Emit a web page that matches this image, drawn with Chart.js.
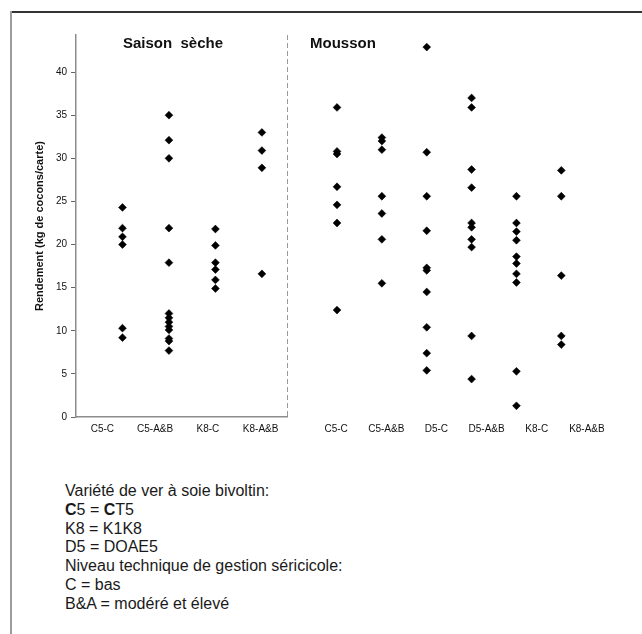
<!DOCTYPE html>
<html lang="fr">
<head>
<meta charset="utf-8">
<title>Rendement en cocons</title>
<script src="https://cdn.jsdelivr.net/npm/chart.js@4.4.0/dist/chart.umd.min.js"></script>
<style>
  html, body { margin: 0; padding: 0; background: #fff; }
  body {
    width: 642px; height: 634px; position: relative; overflow: hidden;
    font-family: "Liberation Sans", Arial, sans-serif; color: #111;
  }
  .frame-top  { position: absolute; left: 10px; top: 11px; right: 0; border-top: 2px solid #333; }
  .frame-left { position: absolute; left: 10px; top: 11px; bottom: 0; border-left: 2px solid #9c9c9c; }
  canvas { position: absolute; top: 0; }
  #dry { left: 0; }
  #wet { left: 287px; }
  .panel-title {
    position: absolute; top: 34px; font-weight: bold; font-size: 15px;
    line-height: 18px; white-space: pre;
  }
  .note { position: absolute; left: 65px; top: 482px; font-size: 16px; line-height: 18.8px; color: #1a1a1a; }
</style>
</head>
<body>
<div class="frame-top"></div>
<div class="frame-left"></div>

<canvas id="dry" width="295" height="440"></canvas>
<canvas id="wet" width="355" height="440"></canvas>

<div class="panel-title" style="left:123px">Saison  sèche</div>
<div class="panel-title" style="left:310px">Mousson</div>

<div class="note">
  Variété de ver à soie bivoltin:<br>
  <b>C</b>5 = <b>C</b>T5<br>
  K8 = K1K8<br>
  D5 = DOAE5<br>
  Niveau technique de gestion séricicole:<br>
  C = bas<br>
  B&amp;A = modéré et élevé
</div>

<script>
'use strict';

// ── Data ────────────────────────────────────────────────────────────────────

var Y_MAX   = 44.3;
var Y_TICKS = [0, 5, 10, 15, 20, 25, 30, 35, 40];

// Saison sèche
var DRY_CATEGORIES = ['C5-C', 'C5-A&B', 'K8-C', 'K8-A&B'];
var DRY_C5_C  = [24.3, 21.9, 20.9, 20.0, 10.3, 9.2];
var DRY_C5_AB = [35.0, 32.1, 30.0, 21.9, 17.9, 12.0, 11.5, 11.0, 10.5, 10.1, 9.1, 8.8, 7.7];
var DRY_K8_C  = [21.8, 19.9, 17.9, 17.1, 15.9, 14.9];
var DRY_K8_AB = [33.0, 30.9, 28.9, 16.6];

// Mousson
var WET_CATEGORIES = ['C5-C', 'C5-A&B', 'D5-C', 'D5-A&B', 'K8-C', 'K8-A&B'];
var WET_C5_C  = [35.9, 30.8, 30.5, 26.7, 24.6, 22.5, 12.4];
var WET_C5_AB = [32.4, 32.0, 31.0, 25.6, 23.6, 20.6, 15.5];
var WET_D5_C  = [42.9, 30.7, 25.6, 21.6, 17.3, 17.0, 14.5, 10.4, 7.4, 5.4];
var WET_D5_AB = [37.0, 35.9, 28.7, 26.6, 22.5, 22.0, 20.6, 19.7, 9.4, 4.4];
var WET_K8_C  = [25.6, 22.5, 21.5, 20.5, 18.6, 17.8, 16.6, 15.6, 5.3, 1.3];
var WET_K8_AB = [28.6, 25.6, 16.4, 9.4, 8.4];

// ── Helpers ─────────────────────────────────────────────────────────────────

var AXIS_GREY = '#8c8c8c';
var FONT = '"Liberation Sans", Arial, sans-serif';

// one dataset per column, x = column index
function buildDatasets(columns) {
  return columns.map(function (values, i) {
    return {
      data: values.map(function (v) { return { x: i, y: v }; }),
      pointStyle: 'rectRot',
      pointRadius: 3.9,
      backgroundColor: '#000',
      borderColor: '#000',
      borderWidth: 0.6,
      showLine: false,
    };
  });
}

function labelAxis(labels, showBorder) {
  return {
    type: 'category',
    position: 'bottom',
    labels: labels,
    offset: true,
    grid: { display: false, drawTicks: false },
    border: { display: showBorder, color: AXIS_GREY, width: 1.5 },
    ticks: { padding: 6, color: '#111', font: { family: FONT, size: 10 }, autoSkip: false, maxRotation: 0 },
    afterFit: function (s) { s.height = 23; },
  };
}

function baseOptions(padding) {
  return {
    responsive: false,
    animation: false,
    events: [],
    layout: { padding: padding },
    plugins: { legend: { display: false }, tooltip: { enabled: false }, title: { display: false } },
  };
}

// dashed separator on the right edge of the dry-season panel
var separator = {
  id: 'separator',
  afterDraw: function (chart) {
    var a = chart.chartArea;
    var ctx = chart.ctx;
    ctx.save();
    ctx.strokeStyle = '#9a9a9a';
    ctx.lineWidth = 1;
    ctx.setLineDash([5, 3]);
    ctx.beginPath();
    ctx.moveTo(a.right + 0.5, a.top);
    ctx.lineTo(a.right + 0.5, a.bottom);
    ctx.stroke();
    ctx.restore();
  },
};

// ── Saison sèche (with y axis) ──────────────────────────────────────────────

var dryOpts = baseOptions({ top: 35, right: 8, bottom: 0, left: 0 });
dryOpts.scales = {
  x:  { type: 'linear', display: false, min: -1.0, max: 3.54 },
  xl: labelAxis(DRY_CATEGORIES, true),
  y: {
    type: 'linear',
    position: 'left',
    min: 0,
    max: Y_MAX,
    afterBuildTicks: function (s) { s.ticks = Y_TICKS.map(function (v) { return { value: v }; }); },
    grid: { drawOnChartArea: false, drawTicks: true, tickLength: 5, color: '#666', lineWidth: 1 },
    border: { color: AXIS_GREY, width: 1.5 },
    ticks: { padding: 4, color: '#111', font: { family: FONT, size: 10 } },
    title: {
      display: true,
      text: 'Rendement (kg de cocons/carte)',
      color: '#111',
      font: { family: FONT, size: 11, weight: 'bold' },
      padding: { top: 33, bottom: 0 },
    },
    afterFit: function (s) { s.width = 76; },
  },
};

new Chart(document.getElementById('dry'), {
  type: 'scatter',
  data: { datasets: buildDatasets([DRY_C5_C, DRY_C5_AB, DRY_K8_C, DRY_K8_AB]) },
  options: dryOpts,
  plugins: [separator],
});

// ── Mousson ─────────────────────────────────────────────────────────────────

var wetOpts = baseOptions({ top: 35, right: 30, bottom: 0, left: 24 });
wetOpts.scales = {
  x:  { type: 'linear', display: false, min: -0.58, max: 6.13 },
  xl: labelAxis(WET_CATEGORIES, false),
  y:  { type: 'linear', display: false, min: 0, max: Y_MAX },
};

new Chart(document.getElementById('wet'), {
  type: 'scatter',
  data: { datasets: buildDatasets([WET_C5_C, WET_C5_AB, WET_D5_C, WET_D5_AB, WET_K8_C, WET_K8_AB]) },
  options: wetOpts,
});
</script>
</body>
</html>
